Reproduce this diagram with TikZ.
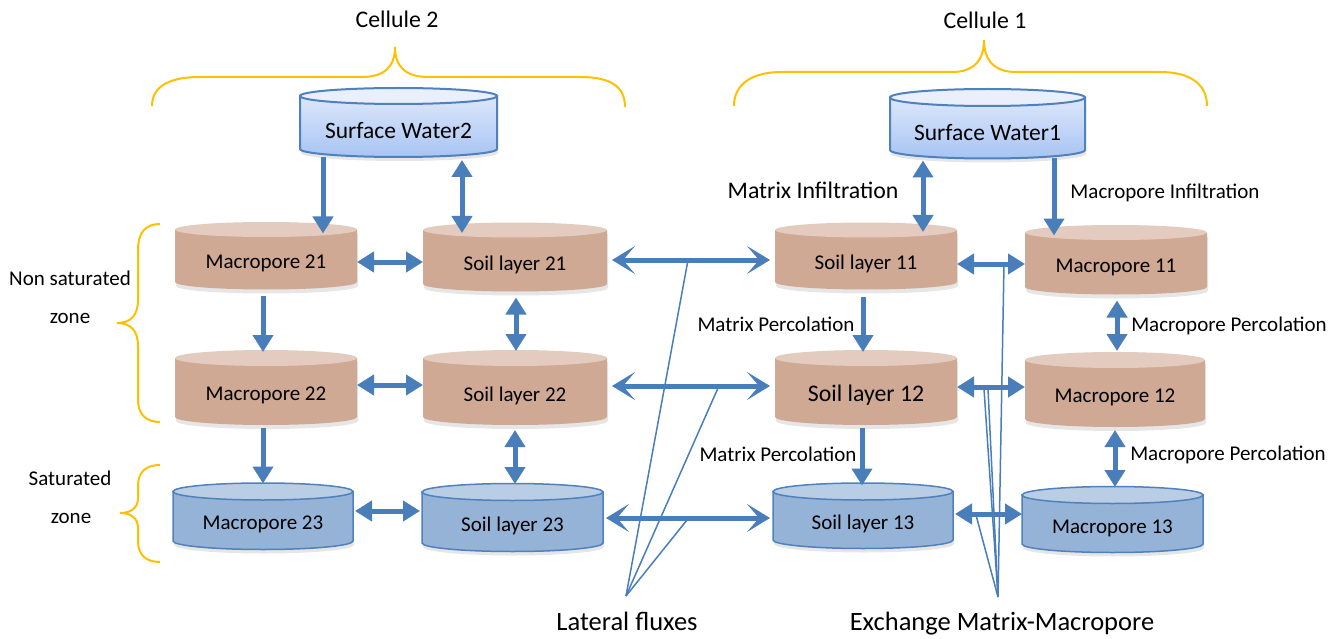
\documentclass[tikz,border=0pt]{standalone}
\usepackage{fontspec}
\setmainfont{Carlito}
\usetikzlibrary{arrows.meta,shadows,calc}
\definecolor{arrblue}{HTML}{4A7EBB}
\definecolor{cylline}{HTML}{4F81BD}
\definecolor{brownbody}{HTML}{CFA994}
\definecolor{browntop}{HTML}{E3CCBF}
\definecolor{bluebody}{HTML}{95B3D7}
\definecolor{bluetop}{HTML}{B9CDE5}
\definecolor{swtop}{HTML}{E9F0FC}
\definecolor{swbodytop}{HTML}{DCE7FB}
\definecolor{swbodybot}{HTML}{A8C4F3}
\definecolor{gold}{HTML}{FFC000}
\tikzset{
  x=1pt, y=1pt,
  shad/.style={drop shadow={shadow xshift=1pt, shadow yshift=-4pt, opacity=.2}},
  brown body/.style={fill=brownbody, shad},
  brown top/.style={fill=browntop},
  blue body/.style={fill=bluebody, draw=cylline, line width=1.5pt, shad},
  blue top/.style={fill=bluetop, draw=cylline, line width=1.5pt},
  sw body/.style={top color=swbodytop, bottom color=swbodybot, draw=cylline, line width=2pt, shad},
  sw top/.style={fill=swtop, draw=cylline, line width=2pt},
  cylbox/.style={inner sep=0pt, outer sep=0pt},
  brace/.style={draw=gold, line width=2pt},
  sarr/.style={draw=arrblue, line width=5pt, -{Triangle[length=17pt,width=20pt]}},
  darr/.style={draw=arrblue, line width=5pt, {Triangle[length=17pt,width=20pt]}-{Triangle[length=17pt,width=20pt]}},
  larr/.style={draw=arrblue, line width=5pt, {Stealth[length=23pt,width=28pt,inset=12pt]}-{Stealth[length=23pt,width=28pt,inset=12pt]}},
  thinl/.style={draw=arrblue, line width=1.5pt},
  lbl/.style={inner sep=0pt, font=\fontsize{21}{25}\selectfont},
  lblbig/.style={inner sep=0pt, font=\fontsize{23.8}{28}\selectfont},
  lblhuge/.style={inner sep=0pt, font=\fontsize{26.5}{31}\selectfont},
}
% #1 name #2 x1 #3 x2 #4 y top-ellipse centre #5 y bottom-ellipse centre #6 ry #7 kind #8 font size #9 text
\newcommand\mycyl[9]{%
  \pgfmathsetmacro\cxc{(#2+#3)/2}%
  \pgfmathsetmacro\crx{(#3-#2)/2}%
  \pgfmathsetmacro\cw{#3-#2}%
  \pgfmathsetmacro\chh{#5+#6-#4}%
  \pgfmathsetmacro\cyb{-(#4+#5+#6)/2}%
  \pgfmathsetmacro\cyt{-(#4+#5)/2-#6}%
  \path[#7 body] (#2,-#4) -- (#2,-#5) arc[start angle=180,end angle=360,x radius=\crx pt,y radius=#6 pt] -- (#3,-#4) -- cycle;
  \path[#7 top] (\cxc,-#4) ellipse [x radius=\crx pt, y radius=#6 pt];
  \node[cylbox, minimum width=\cw pt, minimum height=\chh pt] (#1) at (\cxc,\cyb) {};
  \node[inner sep=0pt, font=\fontsize{#8}{#8}\selectfont] (#1t) at (\cxc,\cyt) {#9};
}
\begin{document}
\begin{tikzpicture}
\useasboundingbox (0,0) rectangle (1338,-639);

% braces
\draw[brace] (152,-106) .. controls (152,-86) and (170,-77) .. (200,-77) -- (362,-77)
  .. controls (385,-77) and (395,-66) .. (395,-47)
  .. controls (395,-66) and (405,-77) .. (428,-77) -- (580,-77)
  .. controls (610,-77) and (625,-86) .. (625,-107);
\draw[brace] (734,-106) .. controls (734,-84) and (752,-72) .. (782,-72) -- (952,-72)
  .. controls (974,-72) and (984,-60) .. (984,-40)
  .. controls (984,-60) and (994,-72) .. (1016,-72) -- (1160,-72)
  .. controls (1190,-72) and (1207,-84) .. (1207,-106);
\draw[brace] (160,-224) .. controls (146,-224) and (138,-232) .. (138,-250) -- (138,-300)
  .. controls (138,-316) and (130,-323) .. (117,-323)
  .. controls (130,-323) and (138,-330) .. (138,-346) -- (138,-400)
  .. controls (138,-414) and (146,-422) .. (160,-422);
\draw[brace] (160,-465) .. controls (146,-465) and (138,-472) .. (138,-486) -- (138,-498)
  .. controls (138,-508) and (131,-513) .. (120,-513)
  .. controls (131,-513) and (138,-518) .. (138,-528) -- (138,-541)
  .. controls (138,-555) and (146,-562) .. (160,-562);

\node[lblbig] (cel2) at (397,-19) {Cellule 2};
\node[lblbig] (cel1) at (985,-20) {Cellule 1};
\node[lbl] (nsz1) at (70,-278) {Non saturated};
\node[lbl] (nsz2) at (70,-318) {zone};
\node[lbl] (sz1) at (70,-478) {Saturated};
\node[lbl] (sz2) at (71,-518) {zone};

% cylinders
\mycyl{sw2}{300}{497}{96}{149}{8}{sw}{23.5}{Surface Water2}
\mycyl{sw1}{890}{1085}{97.5}{150}{8.5}{sw}{23.5}{Surface Water1}
\mycyl{m21}{175}{357}{229.5}{282}{7.5}{brown}{21}{Macropore 21}
\mycyl{s21}{423}{607}{230}{284}{7.5}{brown}{21}{Soil layer 21}
\mycyl{m22}{175}{357}{358}{417}{8}{brown}{21}{Macropore 22}
\mycyl{s22}{423}{607}{358}{417}{8}{brown}{21}{Soil layer 22}
\mycyl{m23}{173}{353}{491.5}{541}{8.5}{blue}{21}{Macropore 23}
\mycyl{s23}{422}{603}{492}{543}{8.5}{blue}{21}{Soil layer 23}
\mycyl{s11}{775}{957}{230}{282}{7.5}{brown}{21}{Soil layer 11}
\mycyl{m11}{1025}{1207}{232.5}{287}{7.5}{brown}{21}{Macropore 11}
\mycyl{s12}{775}{957}{358}{417}{8}{brown}{23.8}{Soil layer 12}
\mycyl{m12}{1025}{1205}{360}{419}{8}{brown}{21}{Macropore 12}
\mycyl{s13}{773}{953}{491.5}{540}{8.5}{blue}{21}{Soil layer 13}
\mycyl{m13}{1022}{1203}{495}{544}{8.5}{blue}{21}{Macropore 13}

% vertical arrows
\draw[sarr, shorten >=-4pt] (sw2.south -| 323,0) -- (m21.north -| 323,0);
\draw[darr, shorten <=3pt, shorten >=-3pt] (sw2.south -| 462,0) -- (s21.north -| 462,0);
\draw[darr, shorten <=2pt, shorten >=-2pt] (sw1.south -| 923,0) -- (s11.north -| 923,0);
\draw[sarr, shorten >=-3pt] (sw1.south -| 1054,0) -- (m11.north -| 1054,0);
\draw[sarr, shorten <=6pt, shorten >=6pt] (m21.south -| 263,0) -- (m22.north -| 263,0);
\draw[darr, shorten <=6pt, shorten >=7pt] (s21.south -| 516,0) -- (s22.north -| 516,0);
\draw[sarr, shorten <=3pt, shorten >=8pt] (m22.south -| 263,0) -- (m23.north -| 263,0);
\draw[darr, shorten <=5pt, shorten >=8pt] (s22.south -| 515,0) -- (s23.north -| 515,0);
\draw[sarr, shorten <=7pt, shorten >=6pt] (s11.south -| 863,0) -- (s12.north -| 863,0);
\draw[darr, shorten <=6pt, shorten >=9pt] (m11.south -| 1117,0) -- (m12.north -| 1117,0);
\draw[sarr, shorten <=3pt, shorten >=6pt] (s12.south -| 862,0) -- (s13.north -| 862,0);
\draw[darr, shorten <=3pt, shorten >=8pt] (m12.south -| 1115,0) -- (m13.north -| 1115,0);

% horizontal arrows
\draw[darr] (m21.east |- 0,-262) -- (s21.west |- 0,-262);
\draw[darr] (m22.east |- 0,-385) -- (s22.west |- 0,-385);
\draw[darr, shorten <=2pt, shorten >=2pt] (m23.east |- 0,-511) -- (s23.west |- 0,-511);
\draw[larr, shorten <=5pt, shorten >=5pt] (s21.east |- 0,-260) -- (s11.west |- 0,-260);
\draw[larr, shorten <=5pt, shorten >=5pt] (s22.east |- 0,-386) -- (s12.west |- 0,-386);
\draw[larr, shorten <=3pt, shorten >=3pt] (s23.east |- 0,-518) -- (s13.west |- 0,-518);
\draw[darr] (s11.east |- 0,-264) -- (m11.west |- 0,-264);
\draw[darr] (s12.east |- 0,-387) -- (m12.west |- 0,-387);
\draw[darr, shorten <=2pt] (s13.east |- 0,-514) -- (m13.west |- 0,-514);

% labels
\node[lblbig] (mi) at (813,-190) {Matrix Infiltration};
\node[lbl] (mpi) at (1165,-193) {Macropore Infiltration};
\node[lbl] (mp1) at (776,-324) {Matrix Percolation};
\node[lbl] (mpp1) at (1229,-326) {Macropore Percolation};
\node[lbl] (mp2) at (778,-454) {Matrix Percolation};
\node[lbl] (mpp2) at (1228,-455) {Macropore Percolation};

% lateral fluxes pointer lines
\coordinate (lf) at (626,-596);
\coordinate (l1) at (688,-260);
\coordinate (l2) at (718,-388);
\coordinate (l3) at (687,-520);
\draw[thinl] (lf) -- (l1);
\draw[thinl] (lf) -- (l2);
\draw[thinl] (lf) -- (l3);
\node[lblhuge] (lat) at (627,-621) {Lateral fluxes};

% exchange pointer lines
\coordinate (ex) at (998,-597);
\coordinate (e1) at (1004,-264);
\coordinate (e2) at (984,-389);
\coordinate (e2b) at (988,-389);
\coordinate (e3) at (976,-515);
\draw[thinl] (ex) -- (e1);
\draw[thinl] (ex) -- (e2);
\draw[thinl] (ex) -- (e2b);
\draw[thinl] (ex) -- (e3);
\node[lblhuge] (exl) at (1002,-624) {Exchange Matrix-Macropore};
\end{tikzpicture}
\end{document}
